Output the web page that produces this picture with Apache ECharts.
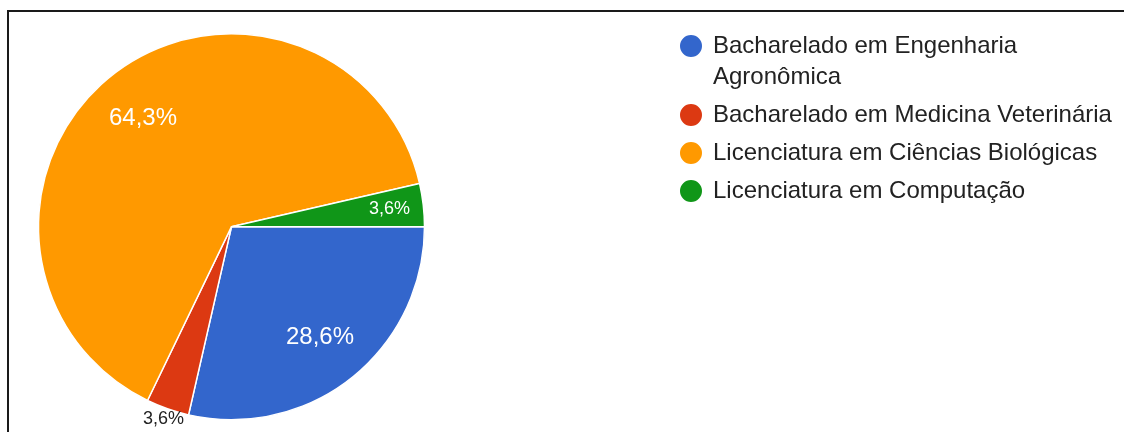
<!DOCTYPE html>
<html>
<head>
<meta charset="utf-8">
<script src="https://cdn.jsdelivr.net/npm/echarts@6/dist/echarts.min.js"></script>
<style>
  html, body { margin: 0; padding: 0; background: #fff; }
  #frame { position: absolute; left: 7px; top: 10px; right: 0; bottom: 0;
           border-top: 2px solid #1a1a1a; border-left: 2px solid #1a1a1a; }
  #main { position: absolute; left: 0; top: 0; width: 1124px; height: 432px; }
</style>
</head>
<body>
<div id="frame"></div>
<div id="main"></div>
<script>
// percentages, clockwise from 3 o'clock
var cursos = [
  'Bacharelado em Engenharia\nAgronômica',
  'Bacharelado em Medicina Veterinária',
  'Licenciatura em Ciências Biológicas',
  'Licenciatura em Computação'
];
var percentuais = [28.6, 3.6, 64.3, 3.6];
var cores = ['#3366cc', '#dc3912', '#ff9900', '#109618'];

var fonte = '"Liberation Sans", Arial, sans-serif';
var centro = [231.5, 226.7];
var raio = 193;

var fatias = cursos.map(function (nome, i) {
  return { name: nome, value: percentuais[i], itemStyle: { color: cores[i] } };
});

// label-only copy of the pie; inner radius pushes "inside" labels out to ~0.72r
var rotulos = cursos.map(function (nome, i) {
  var item = { name: nome, value: percentuais[i] };
  if (i === 1) {
    item.label = {
      position: 'outside', color: '#222', fontSize: 18,
      distanceToLabelLine: 0, offset: [20, 0]
    };
    item.labelLine = { show: false, length: 11, length2: 0 };
  } else if (i === 2) {
    item.label = { offset: [0, 3] };
  } else if (i === 3) {
    item.label = { fontSize: 18, offset: [17, -2] };
  }
  return item;
});

var chart = echarts.init(document.getElementById('main'));
chart.setOption({
  animation: false,
  legend: {
    orient: 'vertical',
    left: 678,
    top: -0.5,
    padding: 0,
    icon: 'circle',
    itemWidth: 34,
    itemHeight: 24,
    itemGap: 7,
    selectedMode: false,
    textStyle: { fontFamily: fonte, fontSize: 24, color: '#222', lineHeight: 31 },
    // blank first line so the wrapped name hangs below the marker
    formatter: function (nome) {
      return nome.indexOf('\n') >= 0 ? ' \n' + nome : nome;
    },
    data: cursos
  },
  series: [{
    type: 'pie',
    center: centro,
    radius: raio,
    startAngle: 0,
    clockwise: true,
    avoidLabelOverlap: false,
    silent: true,
    label: { show: false },
    labelLine: { show: false },
    itemStyle: { borderColor: '#fff', borderWidth: 1.5 },
    data: fatias
  }, {
    type: 'pie',
    center: centro,
    radius: [raio * 0.44, raio],
    startAngle: 0,
    clockwise: true,
    avoidLabelOverlap: false,
    silent: true,
    itemStyle: { color: 'rgba(0,0,0,0)' },
    labelLine: { show: false },
    label: {
      show: true,
      position: 'inside',
      color: '#fff',
      fontFamily: fonte,
      fontSize: 24,
      formatter: function (p) { return String(p.value).replace('.', ',') + '%'; }
    },
    data: rotulos
  }]
});
</script>
</body>
</html>
